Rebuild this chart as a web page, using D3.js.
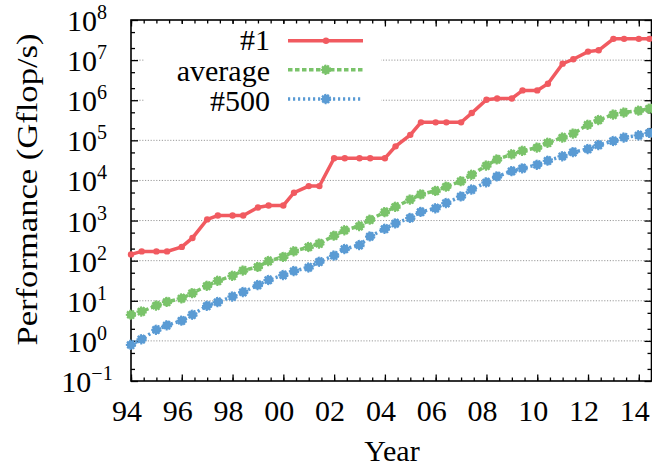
<!DOCTYPE html>
<html>
<head>
<meta charset="utf-8">
<script src="https://cdn.jsdelivr.net/npm/d3@7"></script>
<style>
  body { margin: 0; background: #fff; }
</style>
</head>
<body>
<div id="chart"></div>
<script>
// TOP500 list dates (June = year, November = year + 5/12)
const listDates = [
    1994.0, 1994.42, 1995.0, 1995.42, 1996.0, 1996.42, 1997.0, 1997.42,
    1998.0, 1998.42, 1999.0, 1999.42, 2000.0, 2000.42, 2001.0, 2001.42,
    2002.0, 2002.42, 2003.0, 2003.42, 2004.0, 2004.42, 2005.0, 2005.42,
    2006.0, 2006.42, 2007.0, 2007.42, 2008.0, 2008.42, 2009.0, 2009.42,
    2010.0, 2010.42, 2011.0, 2011.42, 2012.0, 2012.42, 2013.0, 2013.42,
    2014.0, 2014.42
];

// Performance in Gflop/s
const top1 = [
    143.4, 170, 170, 170, 220.4, 368.2, 1068, 1338,
    1338, 1338, 2121, 2379, 2379, 4938, 7226, 7226,
    35860, 35860, 35860, 35860, 35860, 70720, 136800, 280600,
    280600, 280600, 280600, 478200, 1026000, 1105000, 1105000, 1759000,
    1759000, 2566000, 8162000, 10510000, 16320000, 17590000, 33860000, 33860000,
    33860000, 33860000
];

const average = [
    4.5, 5.4, 7.6, 9.4, 11.5, 15.5, 23.6, 31.5,
    42, 57, 70, 98, 124, 172, 220, 268,
    420, 575, 730, 1055, 1625, 2200, 3350, 4500,
    5500, 7000, 9600, 13900, 23500, 33500, 45000, 55000,
    66000, 87000, 117500, 148000, 245000, 322000, 440000, 495000,
    550000, 618000
];

const rank500 = [
    0.8, 1.1, 1.9, 2.45, 3.2, 4.5, 7.5, 9.3,
    12.8, 16.5, 24.7, 33.1, 43.8, 55.1, 67.8, 94.3,
    134, 196, 245, 403, 624, 851, 1166, 1646,
    2026, 2737, 4005, 5929, 9000, 12640, 17090, 20050,
    24670, 31120, 40190, 50940, 60820, 76500, 96620, 117800,
    133700, 153400
];

const seriesNames = ["#1", "average", "#500"];
const xTickYears = [1994, 1996, 1998, 2000, 2002, 2004, 2006, 2008, 2010, 2012, 2014];
const xTickLabels = ["94", "96", "98", "00", "02", "04", "06", "08", "10", "12", "14"];
const yTickExponents = [-1, 0, 1, 2, 3, 4, 5, 6, 7, 8];

const serif = "Liberation Serif";

// Dimensions and margins
const margin = { top: 20, right: 0.5, bottom: 86, left: 131 };
const width = 652 - margin.left - margin.right;
const height = 467 - margin.top - margin.bottom;

const svg = d3.select("#chart")
    .append("svg")
    .attr("width", 652)
    .attr("height", 467)
    .append("g")
    .attr("transform", `translate(${margin.left},${margin.top})`);

// Scales
const x = d3.scaleLinear()
    .domain([1994, 2014.5])
    .range([0, width]);

const y = d3.scaleLog()
    .domain([0.1, 1e8])
    .range([height, 0]);

const color = d3.scaleOrdinal()
    .domain(seriesNames)
    .range(["#F15A60", "#7AC36A", "#5A9BD4"]);

const dashes = { "#1": null, "average": "4.5,2.5", "#500": "2.2,2.8" };

// Grid lines at every decade
svg.selectAll(".grid")
    .data(yTickExponents.slice(1, -1))
    .enter()
    .append("line")
    .attr("x1", 0)
    .attr("x2", width)
    .attr("y1", d => y(Math.pow(10, d)))
    .attr("y2", d => y(Math.pow(10, d)))
    .attr("stroke", "#9a9a9a")
    .attr("stroke-width", 1)
    .attr("stroke-dasharray", "1.2,1.6");

// Ticks, all pointing inward
const yMajor = yTickExponents.map(e => Math.pow(10, e));
const yMinor = [];
yTickExponents.slice(0, -1).forEach(e => {
    yMinor.push(2 * Math.pow(10, e), 5 * Math.pow(10, e));
});
const xMinor = d3.range(1994, 2014.51, 0.5);

function styleAxis(g) {
    g.select(".domain").remove();
    g.selectAll("line").attr("stroke", "#000").attr("stroke-width", 1.3);
    g.selectAll("text").remove();
}

svg.append("g").call(d3.axisLeft(y).tickValues(yMajor).tickSize(-7)).call(styleAxis);
svg.append("g").call(d3.axisLeft(y).tickValues(yMinor).tickSize(-4)).call(styleAxis);
svg.append("g").attr("transform", `translate(${width},0)`)
    .call(d3.axisRight(y).tickValues(yMajor).tickSize(-7)).call(styleAxis);
svg.append("g").attr("transform", `translate(${width},0)`)
    .call(d3.axisRight(y).tickValues(yMinor).tickSize(-4)).call(styleAxis);

svg.append("g").attr("transform", `translate(0,${height})`)
    .call(d3.axisBottom(x).tickValues(xMinor).tickSize(-3.5)).call(styleAxis);
svg.append("g").attr("transform", `translate(0,${height})`)
    .call(d3.axisBottom(x).tickValues(xTickYears).tickSize(-6.5)).call(styleAxis);
svg.append("g")
    .call(d3.axisTop(x).tickValues(xMinor).tickSize(-3.5)).call(styleAxis);
svg.append("g")
    .call(d3.axisTop(x).tickValues(xTickYears).tickSize(-6.5)).call(styleAxis);

// Frame
svg.append("rect")
    .attr("x", 0)
    .attr("y", 0)
    .attr("width", width)
    .attr("height", height)
    .attr("fill", "none")
    .attr("stroke", "#000")
    .attr("stroke-width", 1.6);

// X tick labels
svg.selectAll(".xlabel")
    .data(xTickYears)
    .enter()
    .append("text")
    .attr("x", d => x(d) - 4)
    .attr("y", height + 40)
    .attr("text-anchor", "middle")
    .style("font-family", serif)
    .style("font-size", "30px")
    .text((d, i) => xTickLabels[i]);

// Y tick labels (10 with superscript)
const yLabels = svg.selectAll(".ylabel")
    .data(yTickExponents)
    .enter()
    .append("text")
    .attr("x", -44)
    .attr("y", d => y(Math.pow(10, d)) + 11)
    .attr("text-anchor", "middle")
    .style("font-family", serif)
    .style("font-size", "30px");

yLabels.append("tspan").text("10");
yLabels.append("tspan")
    .attr("dy", -12)
    .style("font-size", "20px")
    .text(d => d < 0 ? "\u2212" + Math.abs(d) : d);

// Axis labels
svg.append("text")
    .attr("x", 261)
    .attr("y", height + 80)
    .attr("text-anchor", "middle")
    .style("font-family", serif)
    .style("font-size", "30px")
    .text("Year");

svg.append("text")
    .attr("transform", "rotate(-90)")
    .attr("x", -169.5)
    .attr("y", -94)
    .attr("text-anchor", "middle")
    .attr("textLength", 312)
    .attr("lengthAdjust", "spacingAndGlyphs")
    .style("font-family", serif)
    .style("font-size", "30px")
    .text("Performance (Gflop/s)");

// Data
const seriesData = [top1, average, rank500];
const line = d3.line()
    .x((d, i) => x(listDates[i]))
    .y(d => y(d));

seriesData.forEach((values, k) => {
    const name = seriesNames[k];
    svg.append("path")
        .datum(values)
        .attr("fill", "none")
        .attr("stroke", color(name))
        .attr("stroke-width", 3.5)
        .attr("stroke-dasharray", dashes[name])
        .attr("d", line);

    svg.selectAll(".pt" + k)
        .data(values)
        .enter()
        .append("circle")
        .attr("cx", (d, i) => x(listDates[i]))
        .attr("cy", d => y(d))
        .attr("r", k === 0 ? 3.2 : 4.3)
        .attr("fill", color(name))
        .attr("stroke", color(name))
        .attr("stroke-width", k === 0 ? 0 : 1.8)
        .attr("stroke-dasharray", k === 0 ? null : "2,1");
});

// Legend with white background covering the grid
const legend = svg.append("g");

legend.append("rect")
    .attr("x", 14)
    .attr("y", 4)
    .attr("width", 236)
    .attr("height", 94)
    .attr("fill", "#fff");

seriesNames.forEach((name, i) => {
    const ly = [20.7, 49.7, 79][i];
    legend.append("text")
        .attr("x", 139)
        .attr("y", [30, 61, 91][i])
        .attr("text-anchor", "end")
        .style("font-family", serif)
        .style("font-size", "30px")
        .text(name);

    legend.append("line")
        .attr("x1", 157)
        .attr("x2", 232)
        .attr("y1", ly)
        .attr("y2", ly)
        .attr("stroke", color(name))
        .attr("stroke-width", 3.5)
        .attr("stroke-dasharray", dashes[name]);

    legend.append("circle")
        .attr("cx", 195)
        .attr("cy", ly)
        .attr("r", i === 0 ? 3.2 : 4.3)
        .attr("fill", color(name))
        .attr("stroke", color(name))
        .attr("stroke-width", i === 0 ? 0 : 1.8)
        .attr("stroke-dasharray", i === 0 ? null : "2,1");
});
</script>
</body>
</html>
